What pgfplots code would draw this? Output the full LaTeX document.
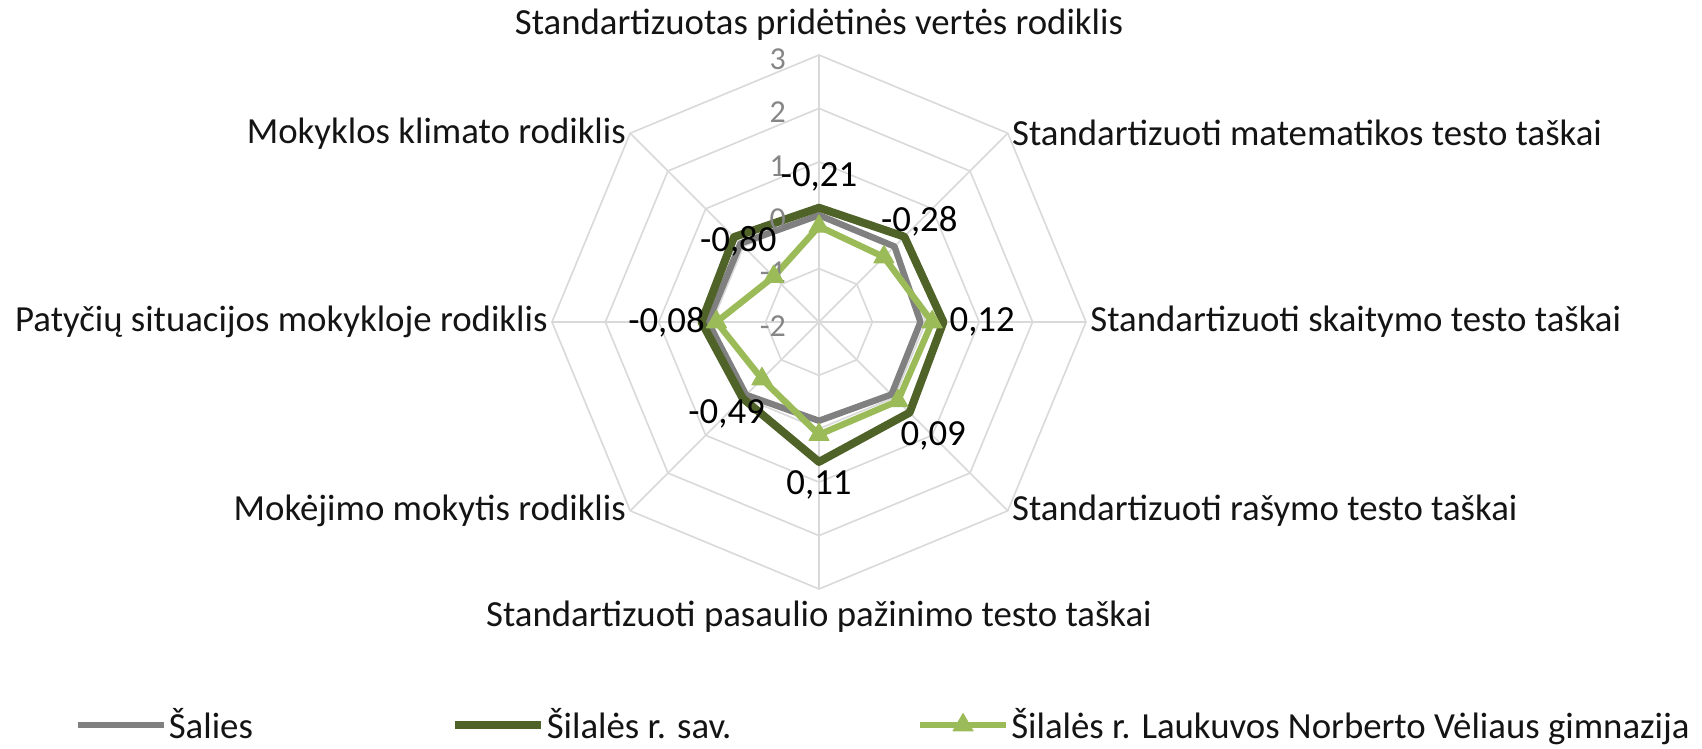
\documentclass[border=0pt]{standalone}
\usepackage{fontspec}
\setmainfont{Carlito}
\usepackage{pgfplots}
\usepackage{pgfplotstable}
\pgfplotsset{compat=1.18}
\usepgfplotslibrary{polar}
\definecolor{gridc}{RGB}{217,217,217}
\definecolor{salies}{RGB}{128,128,128}
\definecolor{sav}{RGB}{79,98,40}
\definecolor{gym}{RGB}{155,187,89}
\definecolor{tickc}{RGB}{134,134,134}
\definecolor{txt}{RGB}{20,20,20}

% angle (deg), value
\pgfplotstableread{
a v
90 0.00
45 0.00
0 -0.10
-45 -0.08
-90 -0.15
-135 -0.07
180 0.08
135 0.08
}\saliestab

\pgfplotstableread{
a v
90 0.14
45 0.26
0 0.33
-45 0.40
-90 0.62
-135 0.02
180 0.20
135 0.25
}\savtab

\pgfplotstableread{
a v l
90 -0.21 {-0,21}
45 -0.28 {-0,28}
0 0.12 {0,12}
-45 0.09 {0,09}
-90 0.11 {0,11}
-135 -0.49 {-0,49}
180 -0.08 {-0,08}
135 -0.80 {-0,80}
}\gymtab

\begin{document}
\begin{tikzpicture}[font=\fontsize{18.4}{22}\selectfont]
\useasboundingbox (-409.5pt,-213.5pt) rectangle (441.5pt,161pt);
\begin{polaraxis}[
  at={(0pt,0pt)}, anchor=center,
  scale only axis, width=267pt, height=267pt,
  ymin=0, ymax=5,
  hide axis, clip=false,
  y filter/.expression={y+2},
  legend columns=3,
  legend style={at={(-0.895,-0.255)}, anchor=west, draw=none, fill=none,
    inner sep=0pt, column sep=0pt, text=txt,
    nodes={inner sep=1pt}},
  legend cell align=left,
  legend image code/.code={\draw[mark repeat=2,mark phase=2,#1] plot coordinates {(0pt,0pt) (21.5pt,0pt) (43pt,0pt)};},
]
% grid rings
\addplot[gridc, line width=0.8pt, forget plot] coordinates {(90,3)(45,3)(0,3)(-45,3)(-90,3)(-135,3)(180,3)(135,3)} -- cycle;
\addplot[gridc, line width=0.8pt, forget plot] coordinates {(90,2)(45,2)(0,2)(-45,2)(-90,2)(-135,2)(180,2)(135,2)} -- cycle;
\addplot[gridc, line width=0.8pt, forget plot] coordinates {(90,1)(45,1)(0,1)(-45,1)(-90,1)(-135,1)(180,1)(135,1)} -- cycle;
\addplot[gridc, line width=0.8pt, forget plot] coordinates {(90,0)(45,0)(0,0)(-45,0)(-90,0)(-135,0)(180,0)(135,0)} -- cycle;
\addplot[gridc, line width=0.8pt, forget plot] coordinates {(90,-1)(45,-1)(0,-1)(-45,-1)(-90,-1)(-135,-1)(180,-1)(135,-1)} -- cycle;
% spokes
\addplot[gridc, line width=0.8pt, forget plot] coordinates {(90,3)(90,-2)(-90,3)};
\addplot[gridc, line width=0.8pt, forget plot] coordinates {(45,3)(45,-2)(-135,3)};
\addplot[gridc, line width=0.8pt, forget plot] coordinates {(0,3)(0,-2)(180,3)};
\addplot[gridc, line width=0.8pt, forget plot] coordinates {(-45,3)(-45,-2)(135,3)};

% data
\addplot[salies, line width=3.2pt, line join=round, no markers] table[x=a,y=v] {\saliestab} -- cycle;
\addlegendentry{\makebox[140pt][l]{Šalies}}
\addplot[sav, line width=4pt, line join=round, no markers] table[x=a,y=v] {\savtab} -- cycle;
\addlegendentry{\makebox[184pt][l]{Šilalės r. sav.}}
\addplot[gym, line width=3.2pt, line join=round, mark=triangle*, mark size=5.8pt,
  mark options={fill=gym, draw=gym, line width=0.5pt},
  nodes near coords, point meta=explicit symbolic,
  visualization depends on={\thisrow{a} \as \ang},
  every node near coord/.append style={anchor=center, shift={({\ang}:25pt)}, text=black, font=\fontsize{18.4}{22}\selectfont}]
  table[x=a,y=v,meta=l] {\gymtab} -- cycle;
\addlegendentry{Šilalės r. Laukuvos Norberto Vėliaus gimnazija}

% radial tick labels
\begin{scope}[every node/.style={anchor=east, text=tickc, font=\fontsize{16}{18}\selectfont, xshift=-13pt, yshift=-2pt}]
\node at (axis cs:90,5) {3};
\node at (axis cs:90,4) {2};
\node at (axis cs:90,3) {1};
\node at (axis cs:90,2) {0};
\node at (axis cs:90,1) {-1};
\node at (axis cs:0,0) {-2};
\end{scope}

% category labels
\begin{scope}[every node/.style={text=txt, inner sep=2pt}]
\node[anchor=south, yshift=5pt] at (axis cs:90,5) {Standartizuotas pridėtinės vertės rodiklis};
\node[anchor=west] at (axis cs:45,5) {Standartizuoti matematikos testo taškai};
\node[anchor=west] at (axis cs:0,5) {Standartizuoti skaitymo testo taškai};
\node[anchor=west] at (axis cs:-45,5) {Standartizuoti rašymo testo taškai};
\node[anchor=north, yshift=-4pt] at (axis cs:-90,5) {Standartizuoti pasaulio pažinimo testo taškai};
\node[anchor=east] at (axis cs:-135,5) {Mokėjimo mokytis rodiklis};
\node[anchor=east] at (axis cs:180,5) {Patyčių situacijos mokykloje rodiklis};
\node[anchor=east] at (axis cs:135,5) {Mokyklos klimato rodiklis};
\end{scope}
\end{polaraxis}
\end{tikzpicture}
\end{document}
